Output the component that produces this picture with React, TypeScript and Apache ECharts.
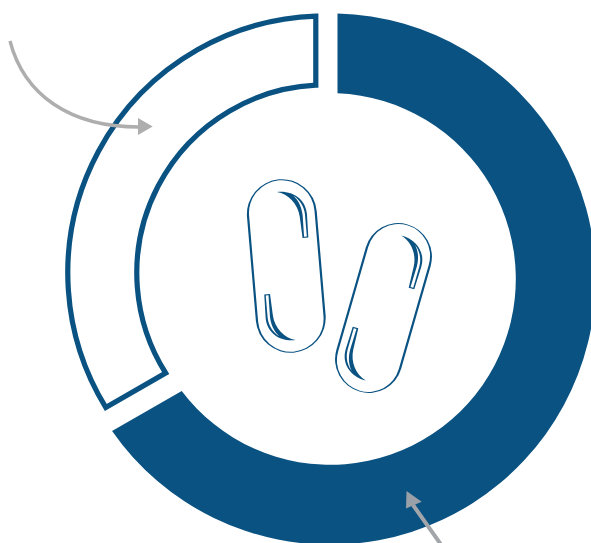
import React, { useEffect, useRef } from "react";
import * as echarts from "echarts";

// Share of each ring segment, in percent, clockwise from twelve o'clock.
const segmentNames = ["Filled", "Outlined"];
const segmentShares = [66.7, 33.3];

const BLUE = "#0a5282";
const GREY = "#aeaeae";

// Ring geometry per segment. Straight edges are cut parallel to the radius, and the
// outlined segment sits slightly apart from the shared centre.
const segmentStyles = [
  { outer: 265.7, inner: 185.8, cutStart: 7.5, cutEnd: 23.2, dx: 0, dy: 0, fill: BLUE, stroke: "none", lineWidth: 0 },
  { outer: 257, inner: 188, cutStart: -7.4, cutEnd: 9, dx: -5.2, dy: -6, fill: "#ffffff", stroke: BLUE, lineWidth: 5.2 },
];

// One highlight of a capsule, drawn about the capsule's centre with its end pointing up.
const glint =
  "M-3,-74.6 C13,-75 25,-65 25,-50 L24.4,-26.5 L18.6,-26.5 L17.6,-48 C17,-61 8,-72 -3,-74.6 Z";
const glintSlit =
  "M20.2,-27.6 L23,-27.6 L23,-50 C22.8,-58 19,-65 13,-69.4 C18,-64 20.4,-57 20.6,-49 Z";

const arrowOne = "M10,41 C24,95 70,127 139,127";
const arrowTwo = "M413,505 L442,546";

const pathShape = (name: string, d: string) => {
  echarts.graphic.registerShape(name, echarts.graphic.extendPath(d as any, {}) as any);
};
pathShape("glintBody", glint);
pathShape("glintSlit", glintSlit);
pathShape("arrowOne", arrowOne);
pathShape("arrowTwo", arrowTwo);

const capsule = (x: number, y: number, deg: number, w: number, h: number) => ({
  type: "group",
  x,
  y,
  rotation: (deg * Math.PI) / 180,
  children: [
    {
      type: "rect",
      z: 10,
      shape: { x: -w / 2, y: -h / 2, width: w, height: h, r: w / 2 },
      style: { fill: BLUE },
    },
    {
      type: "rect",
      z: 11,
      shape: { x: -w / 2 + 2.2, y: -h / 2 + 1, width: w - 4.4, height: h - 2, r: w / 2 - 2.2 },
      style: { fill: "#ffffff" },
    },
    ...[0, Math.PI].flatMap((rotation) => [
      { type: "glintBody", rotation, z: 12, style: { fill: BLUE } },
      { type: "glintSlit", rotation, z: 13, style: { fill: "#ffffff" } },
    ]),
  ],
});

export default function App() {
  const ref = useRef<HTMLDivElement>(null);

  useEffect(() => {
    document.body.style.margin = "0";
    const chart = echarts.init(ref.current!, null, { renderer: "svg" });

    let total = 0;
    const spans = segmentShares.map((share, i) => {
      const start = total;
      total += share;
      return [start, total, i];
    });

    const renderItem = (params: any, api: any) => {
      const i = api.value(2);
      const s = segmentStyles[i];
      const toPct = 100 / (2 * Math.PI);
      const at = (r: number, pct: number) => api.coord([r, pct]);
      const a0 = at(s.outer, api.value(0) + Math.asin(s.cutStart / s.outer) * toPct);
      const a1 = at(s.outer, api.value(1) - Math.asin(s.cutEnd / s.outer) * toPct);
      const b1 = at(s.inner, api.value(1) - Math.asin(s.cutEnd / s.inner) * toPct);
      const b0 = at(s.inner, api.value(0) + Math.asin(s.cutStart / s.inner) * toPct);
      const large = api.value(1) - api.value(0) > 50 ? 1 : 0;
      const d =
        `M${a0[0]},${a0[1]} A${s.outer},${s.outer} 0 ${large} 1 ${a1[0]},${a1[1]} ` +
        `L${b1[0]},${b1[1]} A${s.inner},${s.inner} 0 ${large} 0 ${b0[0]},${b0[1]} Z`;
      return {
        type: "path",
        x: s.dx,
        y: s.dy,
        shape: { pathData: d },
        style: { fill: s.fill, stroke: s.stroke, lineWidth: s.lineWidth, lineJoin: "miter" },
      };
    };

    chart.setOption({
      animation: false,
      polar: { center: [330, 279], radius: [0, 266] },
      radiusAxis: { min: 0, max: 266, show: false },
      angleAxis: { min: 0, max: 100, startAngle: 90, clockwise: true, show: false },
      series: [
        {
          type: "custom",
          name: "Ring",
          coordinateSystem: "polar",
          data: spans.map((v, i) => ({ name: segmentNames[i], value: v })),
          renderItem,
          silent: true,
        },
      ],
      graphic: [
        capsule(286.3, 266, 4.9, 70, 174),
        capsule(383.5, 308, -16, 67.5, 174),
        {
          type: "arrowOne",
          z: 20,
          style: { fill: "none", stroke: GREY, lineWidth: 3.4 },
        },
        {
          type: "polygon",
          z: 20,
          shape: { points: [[138, 118], [152.7, 126.5], [138, 135]] },
          style: { fill: GREY },
        },
        {
          type: "arrowTwo",
          z: 20,
          style: { fill: "none", stroke: "#a2a5a9", lineWidth: 4 },
        },
        {
          type: "polygon",
          z: 20,
          shape: { points: [[406.5, 491], [406, 508.5], [421.7, 501.7]] },
          style: { fill: "#9aa0a8" },
        },
      ],
    });
    return () => chart.dispose();
  }, []);

  return <div ref={ref} style={{ width: 591, height: 543 }} />;
}
